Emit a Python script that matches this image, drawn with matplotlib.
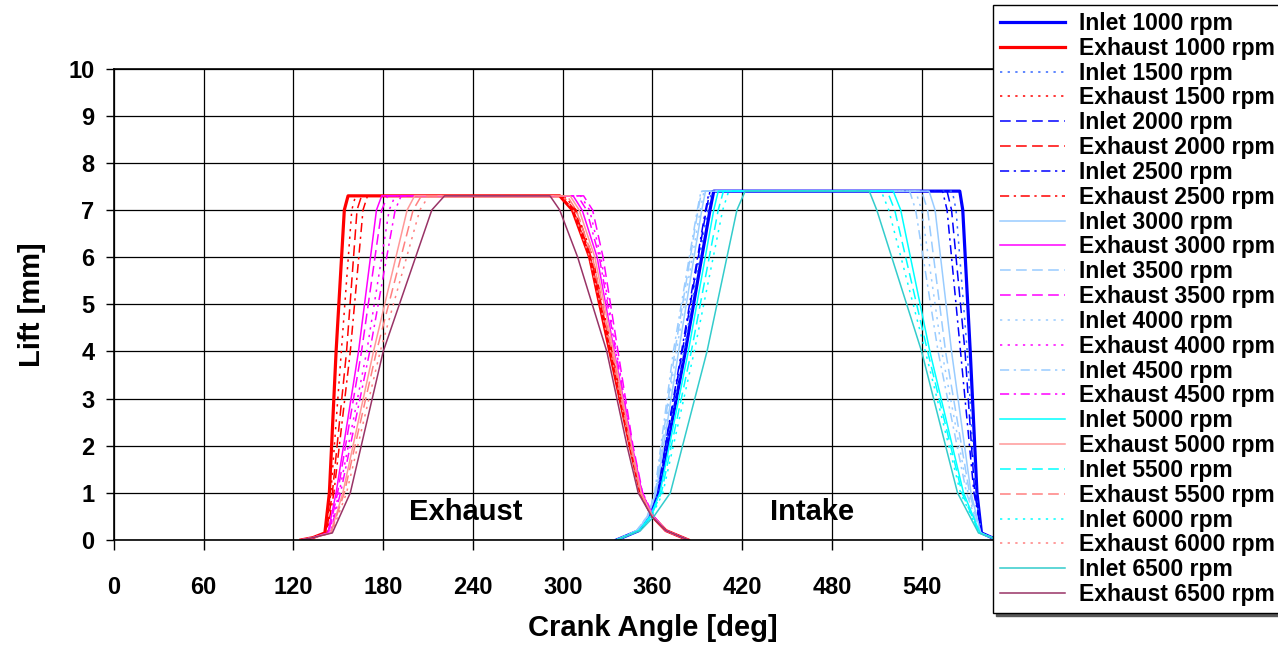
import numpy as np
import matplotlib
matplotlib.use('Agg')
import matplotlib.pyplot as plt

# --- data (crank angle in deg at given lift levels) ---
rpms = [1000, 1500, 2000, 2500, 3000, 3500, 4000, 4500, 5000, 5500, 6000, 6500]

# exhaust opening ramp
ex_rise_lift = [0, 0.05, 0.15, 1, 4, 7, 7.3]
ex_rise_deg = [
    [125, 133, 141.0, 144.0, 148.5, 154.0, 156.5],
    [125, 133, 141.5, 145.0, 152.0, 159.0, 161.5],
    [125, 133, 142.0, 146.0, 155.5, 162.5, 165.5],
    [125, 133, 142.5, 147.0, 158.0, 166.5, 169.5],
    [125, 133, 143.0, 148.5, 163.5, 175.5, 179.0],
    [125, 133, 143.5, 149.5, 165.5, 179.0, 183.0],
    [125, 133, 144.0, 150.5, 169.0, 184.0, 188.0],
    [125, 133, 144.5, 151.5, 171.0, 188.0, 192.0],
    [125, 133, 145.0, 153.0, 173.5, 196.0, 201.0],
    [125, 133, 145.0, 154.0, 175.5, 200.0, 205.5],
    [125, 133, 145.5, 155.5, 178.0, 204.5, 210.5],
    [125, 133, 146.0, 158.0, 180.0, 212.5, 221.0],
]
# exhaust closing ramp
ex_fall_lift = [7.3, 7, 6, 4, 2, 1, 0.5, 0.2, 0]
ex_fall_deg = [
    [298.0, 306.5, 318.0, 331.5, 345.0, 352.0, 360.0, 369, 384],
    [299.0, 307.0, 318.5, 332.0, 345.5, 352.5, 360.0, 369, 384],
    [300.0, 308.0, 319.0, 332.5, 346.0, 352.5, 360.0, 369, 384],
    [301.0, 309.0, 320.0, 333.0, 346.0, 353.0, 360.5, 369, 384],
    [307.0, 313.0, 323.0, 334.5, 346.5, 353.0, 360.5, 369, 384],
    [314.0, 320.0, 327.0, 337.0, 347.0, 353.5, 361.0, 369, 384],
    [312.0, 318.0, 325.5, 336.0, 346.5, 353.0, 360.5, 369, 384],
    [310.0, 316.0, 324.5, 335.5, 346.5, 353.0, 360.5, 369, 384],
    [305.0, 311.0, 321.5, 334.0, 346.0, 352.5, 360.0, 369, 384],
    [303.0, 309.0, 320.0, 333.0, 345.5, 352.0, 360.0, 369, 384],
    [300.0, 307.0, 318.0, 332.0, 345.0, 351.5, 360.0, 369, 384],
    [291.5, 298.0, 310.0, 329.5, 343.0, 350.5, 359.5, 369, 384],
]
# inlet opening ramp
in_rise_lift = [0, 0.2, 0.5, 1, 4, 7, 7.4]
in_rise_deg = [
    [336, 351.0, 358.0, 364.0, 382.0, 398.5, 401.0],
    [336, 350.5, 357.5, 363.5, 381.0, 397.0, 399.5],
    [336, 350.5, 357.5, 363.0, 380.0, 396.0, 398.5],
    [336, 350.0, 357.0, 363.0, 379.5, 395.5, 398.0],
    [336, 350.0, 357.0, 362.5, 377.5, 393.0, 395.5],
    [336, 349.5, 356.5, 362.0, 375.0, 390.5, 393.0],
    [336, 350.0, 357.0, 362.0, 376.0, 392.0, 394.5],
    [336, 349.5, 356.5, 361.5, 374.0, 390.0, 392.5],
    [336, 351.0, 358.5, 365.0, 384.0, 401.0, 404.0],
    [336, 351.0, 359.0, 366.0, 386.0, 404.0, 407.5],
    [336, 351.5, 359.5, 367.0, 388.0, 407.0, 411.0],
    [336, 352.0, 361.0, 372.0, 396.5, 416.5, 422.0],
]
# inlet closing ramp
in_fall_lift = [7.4, 7, 4, 1, 0.15, 0.05, 0]
in_fall_deg = [
    [565.5, 567.5, 572.5, 577.0, 580.0, 587, 594],
    [560.5, 563.0, 570.5, 576.0, 580.0, 587, 594],
    [557.0, 560.0, 569.0, 575.5, 580.0, 587, 594],
    [554.0, 557.0, 566.0, 575.0, 580.0, 587, 594],
    [545.0, 549.0, 560.0, 573.0, 579.5, 587, 594],
    [540.0, 544.0, 556.0, 572.0, 579.5, 587, 594],
    [536.0, 540.0, 553.5, 571.0, 579.0, 587, 594],
    [532.0, 536.0, 551.0, 570.0, 579.0, 587, 594],
    [521.0, 526.0, 545.5, 568.0, 579.0, 587, 594],
    [517.0, 522.0, 544.0, 567.0, 578.5, 587, 594],
    [513.0, 518.0, 542.5, 566.0, 578.5, 587, 594],
    [505.0, 510.0, 540.0, 564.0, 578.0, 587, 594],
]

# --- styles ---
in_colors = ['#0000FF', '#3366FF', '#0000FF', '#0000FF', '#99CCFF', '#99CCFF',
             '#99CCFF', '#99CCFF', '#00FFFF', '#00FFFF', '#00FFFF', '#33CCCC']
ex_colors = ['#FF0000', '#FF0000', '#FF0000', '#FF0000', '#FF00FF', '#FF00FF',
             '#FF00FF', '#FF00FF', '#FF9999', '#FF8080', '#FF8080', '#993366']
solid = '-'
dot = (0, (1.5, 3.5))
dash = (0, (7, 3.5))
dashdot = (0, (6, 3, 1.5, 3))
styles = [solid, dot, dash, dashdot, solid, dash, dot, dashdot, solid, dash, dot, solid]

plt.rcParams['font.family'] = ['Liberation Sans', 'DejaVu Sans']
plt.rcParams['font.weight'] = 'bold'

fig = plt.figure(figsize=(12.78, 6.45), dpi=100)
ax = fig.add_axes([0.0892, 0.1628, 0.8426, 0.7309])

for i, rpm in enumerate(rpms):
    lw = 2.3 if i == 0 else 1.1
    x_in = in_rise_deg[i] + in_fall_deg[i]
    y_in = in_rise_lift + in_fall_lift
    ax.plot(x_in, y_in, color=in_colors[i], ls=styles[i], lw=lw,
            label=f'Inlet {rpm} rpm')
    x_ex = ex_rise_deg[i] + ex_fall_deg[i]
    y_ex = ex_rise_lift + ex_fall_lift
    ax.plot(x_ex, y_ex, color=ex_colors[i], ls=styles[i], lw=lw,
            label=f'Exhaust {rpm} rpm')

ax.set_xlim(0, 720)
ax.set_ylim(0, 10)
ax.set_xticks(np.arange(0, 721, 60))
ax.set_yticks(np.arange(0, 11, 1))
ax.grid(True, color='black', lw=0.9)
ax.set_axisbelow(True)
for sp in ax.spines.values():
    sp.set_color('black')
    sp.set_linewidth(1.2)
ax.tick_params(axis='x', direction='out', length=7, width=1, pad=19, labelsize=17)
ax.tick_params(axis='y', direction='out', length=6, width=1, pad=8, labelsize=17)
for lab in ax.get_xticklabels() + ax.get_yticklabels():
    lab.set_fontweight('bold')

ax.set_xlabel('Crank Angle [deg]', fontsize=21, fontweight='bold', labelpad=11)
ax.set_ylabel('Lift [mm]', fontsize=21, fontweight='bold', labelpad=16)

ax.text(235, 0.6, 'Exhaust', fontsize=21, fontweight='bold', ha='center', va='center')
ax.text(467, 0.6, 'Intake', fontsize=21, fontweight='bold', ha='center', va='center')

leg = fig.legend(loc='upper left', bbox_to_anchor=(993 / 1278, 1 - 5 / 645),
                 fontsize=16.5, labelspacing=0.08, handlelength=2.85, handletextpad=0.6,
                 borderpad=0.3, borderaxespad=0, fancybox=False, framealpha=1,
                 edgecolor='black', shadow={'color': '0.35', 'alpha': 1})
leg.get_frame().set_linewidth(1.0)
for t in leg.get_texts():
    t.set_fontweight('bold')

fig.savefig('out.png', dpi=100)
